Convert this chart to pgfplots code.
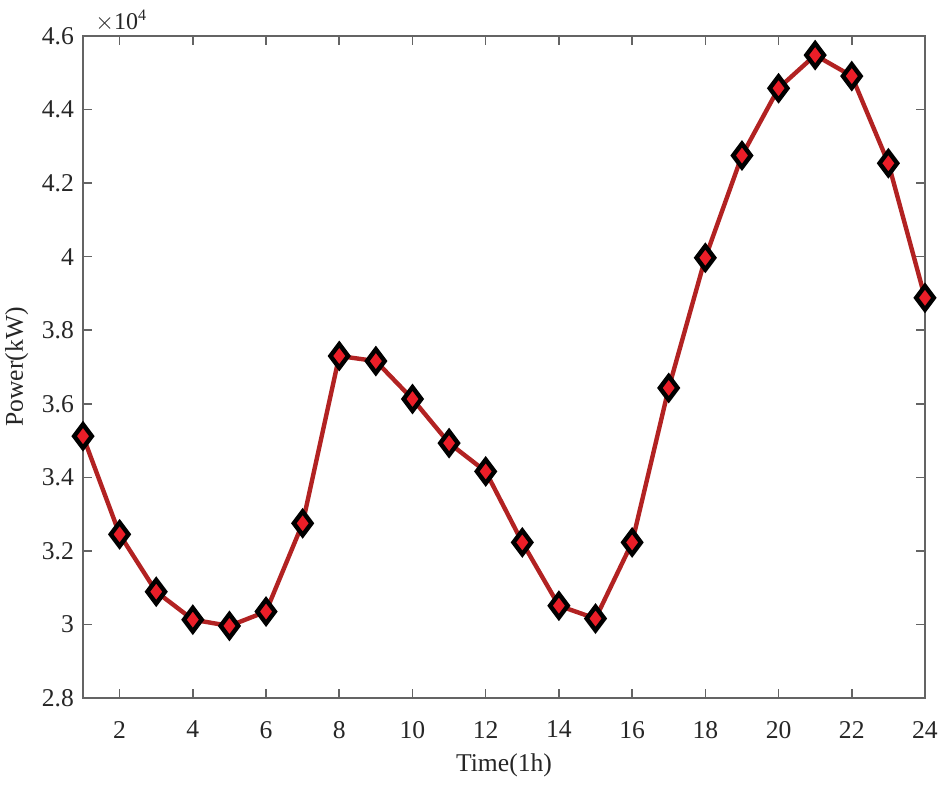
\documentclass[border=0pt]{standalone}
\usepackage{pgfplots}
\pgfplotsset{compat=1.18}
\usepackage{fontspec}
\setmainfont{Liberation Serif}
\definecolor{axgray}{RGB}{100,100,100}
\definecolor{linered}{RGB}{178,34,34}
\definecolor{markred}{RGB}{235,30,40}
\begin{document}
\begin{tikzpicture}
\path[use as bounding box] (-41.5pt,-43pt) rectangle (433.5pt,349pt);
\begin{axis}[
  at={(0,0)}, anchor=south west,
  scale only axis, width=421pt, height=331pt,
  xmin=1, xmax=24, ymin=28000, ymax=46000,
  xtick={2,4,...,24},
  ytick={28000,30000,32000,34000,36000,38000,40000,42000,44000,46000},
  yticklabels={2.8,3,3.2,3.4,3.6,3.8,4,4.2,4.4,4.6},
  scaled y ticks=false,
  /pgf/number format/assume math mode=true,
  tick align=inside,
  tick pos=both,
  axis line style={axgray, line width=0.8pt},
  every tick/.style={axgray, line width=0.8pt},
  major tick length=4.5pt,
  tick label style={font=\fontsize{12.8}{15}\selectfont, black!85},
  xticklabel style={yshift=-8pt},
  yticklabel style={xshift=-1pt},
  label style={font=\fontsize{12.8}{15}\selectfont, black!85},
  xlabel={Time(1h)},
  ylabel={Power(kW)},
  xlabel style={at={(axis description cs:0.5,-0.1012)}, anchor=center},
  ylabel style={at={(axis description cs:-0.0786,0.5)}, anchor=center},
  clip=false,
]
\addplot[linered, line width=2.2pt, mark=diamond*,
  mark size=5.9pt,
  mark options={fill=markred, draw=black, line width=2.2pt}]
coordinates {
(1,35120) (2,32450) (3,30890) (4,30130) (5,29960) (6,30350)
(7,32750) (8,37300) (9,37160) (10,36130) (11,34930) (12,34160)
(13,32230) (14,30510) (15,30160) (16,32230) (17,36430) (18,39970)
(19,42750) (20,44580) (21,45480) (22,44910) (23,42540) (24,38880)
};
\node[anchor=south west, inner sep=1pt, font=\fontsize{12}{14}\selectfont, black!85] at (rel axis cs:0.012,1.003) {$\times$10\textsuperscript{4}};
\end{axis}
\end{tikzpicture}
\end{document}
